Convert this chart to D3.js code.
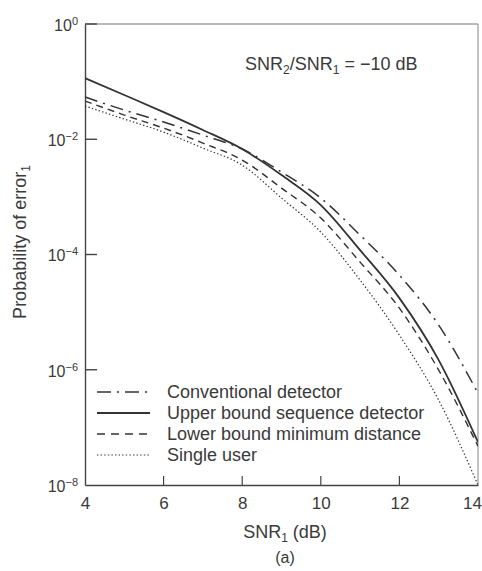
<!DOCTYPE html>
<html>
<head>
<meta charset="utf-8">
<script src="https://cdn.jsdelivr.net/npm/d3@7"></script>
<style>
  html, body { margin: 0; padding: 0; background: #ffffff; }
  svg { display: block; }
  text { font-family: "Liberation Sans", Arial, Helvetica, sans-serif; fill: #3a3a3a; }
</style>
</head>
<body>
<svg id="chart" width="482" height="571"></svg>
<script>
// SNR of user 1 in dB
const snrDb = [4, 5, 6, 7, 8, 9, 10, 11, 12, 13, 14];

// Probability of error for user 1, SNR2/SNR1 = -10 dB
const conventional = [5.41e-2, 3.21e-2, 1.99e-2, 1.18e-2, 6.76e-3, 2.70e-3, 9.53e-4, 2.17e-4, 4.39e-5, 5.94e-6, 3.93e-7];
const upperBound   = [1.15e-1, 5.85e-2, 2.96e-2, 1.45e-2, 6.76e-3, 2.39e-3, 7.21e-4, 1.19e-4, 1.75e-5, 1.47e-6, 5.53e-8];
const lowerBound   = [4.60e-2, 2.63e-2, 1.56e-2, 8.59e-3, 4.36e-3, 1.42e-3, 4.29e-4, 7.38e-5, 1.17e-5, 9.84e-7, 4.72e-8];
const singleUser   = [3.77e-2, 2.24e-2, 1.33e-2, 7.03e-3, 3.56e-3, 9.53e-4, 2.45e-4, 3.60e-5, 3.99e-6, 2.96e-7, 1.00e-8];

const seriesNames = ["Conventional detector", "Upper bound sequence detector",
                     "Lower bound minimum distance", "Single user"];
const xTickValues = [4, 6, 8, 10, 12, 14];
const yTickExponents = [0, -2, -4, -6, -8];

const svg = d3.select("#chart");
const plotLeft = 85, plotRight = 478, plotTop = 24, plotBottom = 485;

const x = d3.scaleLinear().domain([4, 14]).range([plotLeft, plotRight]);
const y = d3.scaleLog().domain([1e-8, 1]).range([plotBottom, plotTop]);

const ink = "#333";

// plot frame
svg.append("line").attr("x1", plotLeft).attr("x2", plotRight).attr("y1", plotTop).attr("y2", plotTop)
  .attr("stroke", "#777").attr("stroke-width", 1.2);
svg.append("line").attr("x1", plotRight).attr("x2", plotRight).attr("y1", plotTop).attr("y2", plotBottom)
  .attr("stroke", "#9a9a9a").attr("stroke-width", 1.2);

// left axis: inward ticks, labels as powers of ten
const yAxis = d3.axisLeft(y)
  .tickValues(yTickExponents.map(e => Math.pow(10, e)))
  .tickSize(0)
  .tickPadding(7);
const gy = svg.append("g").attr("transform", `translate(${plotLeft},0)`).call(yAxis);
gy.select(".domain").attr("stroke", "#444").attr("stroke-width", 1.4);
gy.selectAll(".tick line").remove();
gy.selectAll(".tick text")
  .attr("font-size", 16)
  .attr("fill", "#3a3a3a")
  .attr("dy", "0.4em")
  .each(function(d) {
    const e = Math.round(Math.log10(d));
    const t = d3.select(this).text(null);
    t.append("tspan").text("10");
    t.append("tspan").attr("dy", "-0.55em").attr("font-size", 11)
      .text(e === 0 ? "0" : "\u2212" + Math.abs(e));
  });
svg.append("g").selectAll("line")
  .data(yTickExponents.filter(e => e > -8))
  .join("line")
  .attr("x1", plotLeft).attr("x2", plotLeft + 12)
  .attr("y1", e => y(Math.pow(10, e))).attr("y2", e => y(Math.pow(10, e)))
  .attr("stroke", "#444").attr("stroke-width", 1.4);

// bottom axis: inward ticks at interior values
const xAxis = d3.axisBottom(x).tickValues(xTickValues).tickSize(0).tickPadding(12)
  .tickFormat(d3.format("d"));
const gx = svg.append("g").attr("transform", `translate(0,${plotBottom})`).call(xAxis);
gx.select(".domain").attr("stroke", "#444").attr("stroke-width", 1.4);
gx.selectAll(".tick line").remove();
gx.selectAll(".tick text").attr("font-size", 17).attr("fill", "#3a3a3a");
// keep the last label inside the page edge
gx.selectAll(".tick text").filter(d => d === 14).attr("dx", -6);
svg.append("g").selectAll("line")
  .data(xTickValues.filter(v => v > 4 && v < 14))
  .join("line")
  .attr("x1", v => x(v)).attr("x2", v => x(v))
  .attr("y1", plotBottom).attr("y2", plotBottom - 9)
  .attr("stroke", "#444").attr("stroke-width", 1.2);

// curves
svg.append("clipPath").attr("id", "plot-clip")
  .append("rect").attr("x", plotLeft).attr("y", plotTop)
  .attr("width", plotRight - plotLeft).attr("height", plotBottom - plotTop + 1);

const styles = [
  { dash: "13,6,2,6", width: 1.5 },
  { dash: null,       width: 1.8 },
  { dash: "7,5",      width: 1.4 },
  { dash: "1.4,2.2",  width: 1.2 }
];
const series = [conventional, upperBound, lowerBound, singleUser];

const line = d3.line()
  .x((d, i) => x(snrDb[i]))
  .y(d => y(d))
  .curve(d3.curveMonotoneX);

const gCurves = svg.append("g").attr("clip-path", "url(#plot-clip)");
series.forEach((vals, k) => {
  gCurves.append("path")
    .attr("d", line(vals))
    .attr("fill", "none")
    .attr("stroke", ink)
    .attr("stroke-width", styles[k].width)
    .attr("stroke-dasharray", styles[k].dash);
});

// legend
const legend = svg.append("g");
seriesNames.forEach((name, k) => {
  const ly = 392 + k * 21;
  legend.append("line")
    .attr("x1", 97).attr("x2", 150).attr("y1", ly).attr("y2", ly)
    .attr("stroke", ink).attr("stroke-width", styles[k].width)
    .attr("stroke-dasharray", k === 0 ? "14,6,2,6" : (k === 2 ? "8,6" : styles[k].dash));
  legend.append("text")
    .attr("x", 167).attr("y", ly + 6)
    .attr("font-size", 18)
    .text(name);
});

// annotation
const note = svg.append("text").attr("x", 245).attr("y", 70).attr("font-size", 18);
note.append("tspan").text("SNR");
note.append("tspan").attr("font-size", 12).attr("dy", 4).text("2");
note.append("tspan").attr("dy", -4).text("/SNR");
note.append("tspan").attr("font-size", 12).attr("dy", 4).text("1");
note.append("tspan").attr("dy", -4).text(" = \u221210 dB");

// axis titles
const xt = svg.append("text").attr("x", 285).attr("y", 538).attr("text-anchor", "middle").attr("font-size", 18);
xt.append("tspan").text("SNR");
xt.append("tspan").attr("font-size", 12).attr("dy", 4).text("1");
xt.append("tspan").attr("dy", -4).text(" (dB)");

svg.append("text").attr("x", 285).attr("y", 563).attr("text-anchor", "middle").attr("font-size", 16).text("(a)");

const yt = svg.append("text")
  .attr("transform", "translate(26,242) rotate(-90)")
  .attr("text-anchor", "middle").attr("font-size", 18);
yt.append("tspan").text("Probability of error");
yt.append("tspan").attr("font-size", 12).attr("dy", 4).text("1");
</script>
</body>
</html>
